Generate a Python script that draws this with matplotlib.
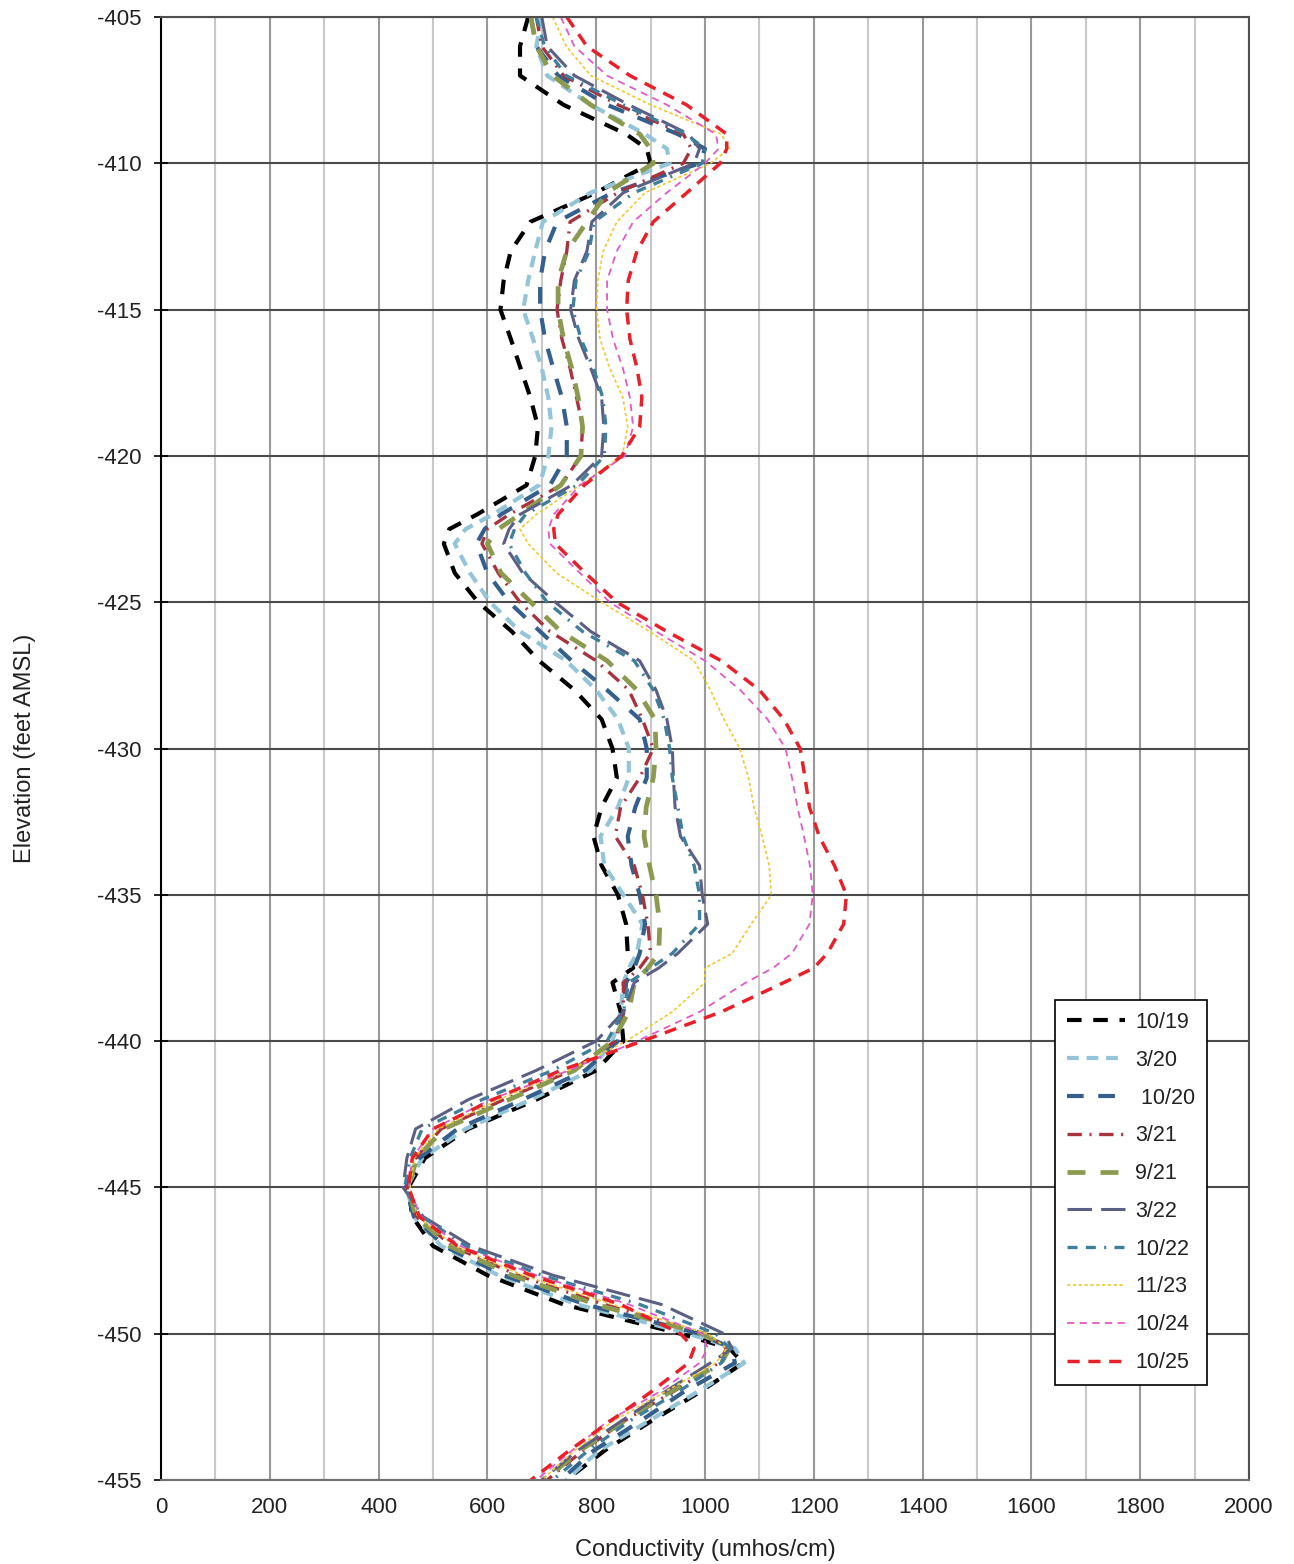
import matplotlib
matplotlib.use("Agg")
import matplotlib.pyplot as plt
from matplotlib.ticker import MultipleLocator

plt.rcParams['font.family'] = ['Liberation Sans', 'DejaVu Sans']
plt.rcParams['axes.unicode_minus'] = False

# elevation grid (feet AMSL)
elev = [-405, -406, -407, -408, -409, -409.5, -410, -411, -412, -413, -414, -415,
        -416, -417, -418, -419, -420, -421, -422, -422.5, -423, -424, -425, -426,
        -427, -428, -429, -430, -431, -432, -433, -434, -435, -436, -437, -437.5,
        -438, -439, -440, -441, -442, -443, -444, -445, -446, -447, -448, -449,
        -450, -450.5, -451, -452, -453, -454, -455]

# conductivity (umhos/cm) per survey
c_10_19 = [675, 660, 660, 740, 855, 893, 900, 800, 679, 643, 630, 624,
           643, 661, 679, 693, 688, 672, 581, 530, 520, 540, 583, 645,
           695, 760, 810, 830, 838, 810, 795, 810, 840, 855, 858, 868,
           830, 845, 850, 800, 690, 565, 485, 455, 462, 500, 600, 740,
           955, 1045, 1070, 990, 900, 815, 745]
c_3_20 = [700, 690, 710, 790, 890, 930, 935, 790, 702, 688, 675, 666,
          684, 700, 712, 718, 712, 695, 610, 560, 540, 568, 605, 660,
          745, 800, 840, 860, 860, 840, 808, 815, 850, 885, 875, 860,
          850, 845, 830, 790, 680, 560, 480, 452, 465, 515, 620, 765,
          970, 1055, 1072, 985, 895, 805, 745]
c_10_20 = [680, 690, 730, 820, 950, 1000, 990, 830, 728, 706, 697, 697,
           706, 721, 737, 746, 746, 715, 625, 595, 580, 600, 640, 697,
           755, 820, 880, 893, 893, 872, 858, 865, 880, 890, 880, 870,
           855, 850, 840, 780, 665, 545, 475, 450, 465, 520, 630, 780,
           990, 1050, 1055, 960, 880, 795, 735]
c_3_21 = [690, 700, 740, 840, 960, 975, 960, 840, 752, 746, 735, 728,
          737, 752, 764, 775, 772, 735, 640, 600, 590, 620, 660, 715,
          800, 860, 885, 905, 880, 845, 835, 870, 885, 895, 900, 880,
          850, 850, 835, 755, 630, 515, 468, 452, 470, 535, 655, 815,
          1000, 1040, 1025, 940, 850, 775, 710]
c_9_21 = [680, 690, 720, 790, 880, 900, 905, 820, 783, 746, 730, 730,
          740, 755, 767, 775, 772, 735, 660, 620, 600, 625, 680, 735,
          820, 875, 908, 910, 905, 892, 888, 898, 910, 917, 915, 895,
          870, 860, 830, 760, 640, 520, 470, 455, 468, 530, 645, 800,
          995, 1045, 1030, 935, 850, 770, 705]
c_3_22 = [700, 710, 760, 860, 970, 990, 980, 850, 792, 783, 760, 753,
          768, 790, 810, 814, 810, 755, 660, 640, 630, 665, 725, 790,
          880, 910, 930, 940, 942, 945, 955, 990, 995, 1005, 950, 915,
          870, 850, 800, 690, 565, 468, 452, 445, 482, 570, 720, 920,
          1035, 1050, 1010, 925, 845, 765, 700]
c_10_22 = [690, 705, 745, 850, 965, 1000, 995, 870, 796, 787, 763, 757,
           772, 795, 812, 818, 815, 765, 670, 650, 640, 670, 710, 775,
           870, 905, 925, 935, 940, 950, 960, 980, 990, 990, 940, 900,
           860, 850, 820, 720, 590, 480, 458, 448, 480, 560, 700, 880,
           1020, 1045, 1030, 950, 860, 785, 720]
c_11_23 = [720, 745, 790, 900, 1030, 1045, 1010, 890, 838, 813, 803, 801,
           807, 825, 849, 858, 848, 770, 690, 660, 675, 727, 810, 898,
           980, 1010, 1035, 1064, 1080, 1090, 1105, 1118, 1122, 1085, 1050, 1000,
           1000, 940, 855, 750, 620, 510, 466, 458, 472, 540, 665, 830,
           1005, 1040, 1020, 925, 830, 760, 700]
c_10_24 = [735, 760, 820, 930, 1020, 1025, 1000, 930, 868, 838, 820, 820,
           831, 849, 862, 868, 853, 770, 722, 712, 715, 770, 825, 910,
           1000, 1065, 1115, 1148, 1160, 1170, 1182, 1193, 1198, 1192, 1160, 1125,
           1075, 990, 875, 750, 605, 500, 462, 455, 478, 550, 690, 860,
           995, 1005, 990, 915, 820, 755, 690]
c_10_25 = [746, 783, 862, 966, 1040, 1040, 1028, 967, 905, 875, 859, 856,
           862, 875, 884, 880, 847, 778, 730, 722, 725, 780, 838, 930,
           1030, 1100, 1145, 1175, 1184, 1192, 1210, 1238, 1260, 1255, 1225, 1200,
           1145, 1030, 885, 735, 610, 500, 462, 455, 475, 545, 680, 845,
           955, 980, 970, 900, 825, 750, 680]

labels = ['10/19', '3/20', ' 10/20', '3/21', '9/21', '3/22', '10/22', '11/23', '10/24', '10/25']
series = [c_10_19, c_3_20, c_10_20, c_3_21, c_9_21, c_3_22, c_10_22, c_11_23, c_10_24, c_10_25]
colors = ['#000000', '#93c4d8', '#355f8c', '#a8323e', '#8c9a50', '#5c5f84', '#3f7f9c',
          '#f2c832', '#e05ac8', '#e8202a']
widths = [3.0, 3.0, 3.0, 2.4, 3.4, 2.2, 2.4, 1.2, 1.3, 2.5]
dashes = [(3.5, 2.8), (2.8, 1.9), (4, 3.5), (4.3, 2.3, 0.6, 2.3), (3.8, 3.2),
          (8, 3), (3, 2.5, 3, 2.5, 0.6, 2.5), (2, 1.5), (4, 3), (3.5, 2.5)]

fig = plt.figure(figsize=(12.94, 15.64), dpi=100)
ax = fig.add_axes([0.1244, 0.0537, 0.8408, 0.9354])

for x, lab, col, lw, d in zip(series, labels, colors, widths, dashes):
    ax.plot(x, elev, color=col, lw=lw, dashes=d, label=lab)

ax.set_xlim(0, 2000)
ax.set_ylim(-455, -405)
ax.xaxis.set_major_locator(MultipleLocator(200))
ax.xaxis.set_minor_locator(MultipleLocator(100))
ax.yaxis.set_major_locator(MultipleLocator(5))

ax.grid(which='major', axis='y', color='#4a4a4a', lw=1.5)
ax.grid(which='major', axis='x', color='#999999', lw=1.5)
ax.grid(which='minor', axis='x', color='#c8c8c8', lw=1.5)
ax.set_axisbelow(True)

ax.tick_params(axis='y', direction='inout', length=10, width=1.2, labelsize=16, pad=9,
               labelcolor='#222222')
ax.tick_params(axis='x', which='both', length=0, labelsize=16, pad=12, labelcolor='#222222')

for s in ['top', 'right']:
    ax.spines[s].set_color('#505050')
    ax.spines[s].set_linewidth(1.5)
ax.spines['left'].set_color('#000000')
ax.spines['left'].set_linewidth(1.5)
ax.spines['bottom'].set_color('#707070')
ax.spines['bottom'].set_linewidth(1.5)

ax.set_xlabel('Conductivity (umhos/cm)', fontsize=17, labelpad=15, color='#222222')
ax.set_ylabel('Elevation (feet AMSL)', fontsize=17, labelpad=44, color='#222222')

leg = ax.legend(loc='lower left', bbox_to_anchor=(0.822, 0.065), fontsize=15.5,
                handlelength=2.7, labelspacing=0.78, borderpad=0.55, handletextpad=0.45,
                fancybox=False, framealpha=1, borderaxespad=0)
leg.get_frame().set_edgecolor('#000000')
leg.get_frame().set_linewidth(1.2)
for t in leg.get_texts():
    t.set_color('#222222')

fig.savefig('out.png', dpi=100)
